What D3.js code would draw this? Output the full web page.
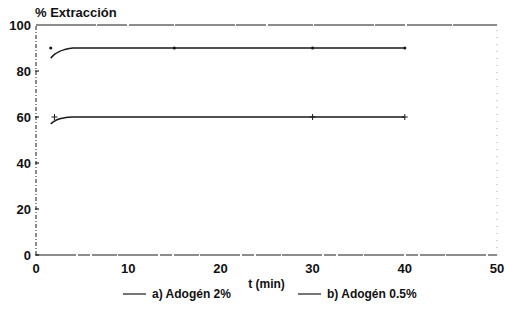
<!DOCTYPE html>
<html>
<head>
<meta charset="utf-8">
<script src="https://cdn.jsdelivr.net/npm/d3@7"></script>
<style>
  body { margin: 0; background: #fff; }
  text { font-family: "Liberation Sans", Arial, sans-serif; font-weight: bold; fill: #111; }
</style>
</head>
<body>
<div id="chart"></div>
<script>
// datos
const tiempos = [1.6, 2, 2.5, 3, 3.5, 4, 5, 10, 15, 20, 30, 40];
const serieA = [85.6, 87.2, 88.4, 89.2, 89.7, 90, 90, 90, 90, 90, 90, 90];   // a) Adogén 2%
const serieB = [57, 58.2, 59.1, 59.6, 59.9, 60, 60, 60, 60, 60, 60, 60];      // b) Adogén 0.5%
const marcasA = [[1.6, 90], [15, 90], [30, 90], [40, 90]];
const marcasB = [[2, 60], [30, 60], [40, 60]];
const xTicks = [0, 10, 20, 30, 40, 50];
const yTicks = [0, 20, 40, 60, 80, 100];
const leyenda = ["a) Adogén 2%", "b) Adogén 0.5%"];

const width = 505, height = 322;
const x = d3.scaleLinear().domain([0, 50]).range([36, 497]);
const y = d3.scaleLinear().domain([0, 100]).range([255, 25]);

const svg = d3.select("#chart").append("svg")
  .attr("width", width).attr("height", height);

const ink = "#1a1a1a";

// marco: eje izquierdo, base, línea superior, borde derecho punteado
svg.append("line").attr("x1", x(0)).attr("x2", x(0)).attr("y1", y(0)).attr("y2", y(100))
  .attr("stroke", ink).attr("stroke-width", 1).attr("stroke-dasharray", "4,2,1,2");
svg.append("line").attr("x1", x(0)).attr("x2", x(50)).attr("y1", y(0)).attr("y2", y(0))
  .attr("stroke", ink).attr("stroke-width", 1.2).attr("stroke-dasharray", "40,2,12,2,25,1");
svg.append("line").attr("x1", x(0)).attr("x2", x(50)).attr("y1", y(100)).attr("y2", y(100))
  .attr("stroke", ink).attr("stroke-width", 1.1).attr("stroke-dasharray", "60,1,30,2,45,1");
svg.append("line").attr("x1", x(50)).attr("x2", x(50)).attr("y1", y(0)).attr("y2", y(100))
  .attr("stroke", "#aaa").attr("stroke-width", 1).attr("stroke-dasharray", "1,6");

// eje y
const gy = svg.append("g");
gy.selectAll("line.t").data(yTicks.slice(0, 5)).join("line")
  .attr("x1", x(0) - 1).attr("x2", x(0) + 3)
  .attr("y1", d => y(d)).attr("y2", d => y(d))
  .attr("stroke", ink).attr("stroke-width", 1.2);
gy.selectAll("text").data(yTicks).join("text")
  .attr("x", x(0) - 5).attr("y", d => y(d) + 5)
  .attr("text-anchor", "end").attr("font-size", 13)
  .text(d => d);

// eje x
svg.append("g").selectAll("text").data(xTicks).join("text")
  .attr("x", d => x(d)).attr("y", y(0) + 18)
  .attr("text-anchor", "middle").attr("font-size", 13)
  .text(d => d);

svg.append("text").attr("x", 35).attr("y", 17).attr("font-size", 13).text("% Extracción");
svg.append("text").attr("x", x(25)).attr("y", 288).attr("text-anchor", "middle")
  .attr("font-size", 12).text("t (min)");

// curvas
const linea = d3.line().x(d => x(d[0])).y(d => y(d[1])).curve(d3.curveMonotoneX);
[serieA, serieB].forEach(s => {
  svg.append("path").datum(tiempos.map((t, i) => [t, s[i]]))
    .attr("d", linea).attr("fill", "none")
    .attr("stroke", ink).attr("stroke-width", 1.5);
});

svg.selectAll("circle.a").data(marcasA).join("circle")
  .attr("cx", d => x(d[0])).attr("cy", d => y(d[1])).attr("r", 1.6).attr("fill", ink);
svg.selectAll("path.b").data(marcasB).join("path")
  .attr("d", d => `M${x(d[0]) - 3},${y(d[1])}h6M${x(d[0])},${y(d[1]) - 3}v6`)
  .attr("stroke", ink).attr("stroke-width", 1);

// leyenda
const leg = [[123, 146], [298, 321]];
leyenda.forEach((t, i) => {
  svg.append("line").attr("x1", leg[i][0]).attr("x2", leg[i][1]).attr("y1", 294).attr("y2", 294)
    .attr("stroke", ink).attr("stroke-width", 1.2);
  svg.append("text").attr("x", leg[i][1] + 6).attr("y", 298).attr("font-size", 12).text(t);
});
</script>
</body>
</html>
